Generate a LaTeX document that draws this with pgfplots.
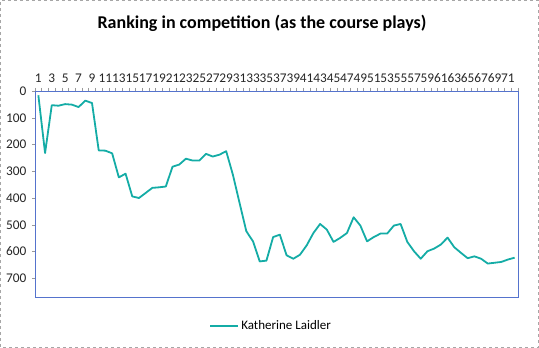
\documentclass[border=0pt]{standalone}
\usepackage{fontspec}
\setmainfont{Carlito}
\usepackage{pgfplots}
\pgfplotsset{compat=1.18}
\definecolor{lineteal}{RGB}{20,172,166}
\definecolor{plotblue}{RGB}{85,115,205}
\begin{document}
\begin{tikzpicture}
\useasboundingbox (0pt,0pt) rectangle (539pt,348pt);
\draw[gray!70, dashed, line width=0.6pt] (0.5pt,0.8pt) rectangle (538.5pt,347.5pt);
\node[font=\fontsize{18}{20}\selectfont\bfseries] at (262pt,325pt) {Ranking in competition (as the course plays)};
\begin{axis}[at={(35pt,51pt)}, anchor=south west, width=483pt, height=206pt, scale only axis,
  xmin=0.5, xmax=72.5, ymin=0, ymax=770, y dir=reverse,
  ytick={0,100,...,700}, xtick={1,3,...,71},
  xticklabel pos=right, xtick pos=right, ytick pos=left,
  tick align=outside,
  major x tick style={draw=none},
  minor xtick={0.5,1.5,...,72.5},
  minor tick length=3pt, major tick length=3pt,
  every tick/.style={gray!80, line width=0.5pt},
  axis line style={draw=plotblue, line width=0.8pt},
  ticklabel style={font=\fontsize{13.3}{15}\selectfont, text=black!85},
  /pgf/number format/assume math mode=true,
  /pgf/number format/1000 sep={},
  yticklabel style={xshift=-2pt},
  xticklabel style={yshift=2pt, inner xsep=0pt},
  legend style={at={(0.489,-0.141)}, anchor=center, draw=none, fill=none,
    font=\fontsize{13}{15}\selectfont, inner sep=0pt},
  legend image code/.code={\draw[#1] (0pt,0pt) -- (28pt,0pt);},
  clip=false,
]
\addplot[lineteal, line width=1.8pt, line join=round] coordinates {
(1,16) (2,232) (3,53) (4,55) (5,49) (6,51) (7,60) (8,36) (9,45) (10,222)
(11,223) (12,233) (13,323) (14,309) (15,394) (16,400) (17,381) (18,362) (19,360) (20,357)
(21,283) (22,275) (23,253) (24,260) (25,260) (26,235) (27,245) (28,238) (29,225) (30,313)
(31,419) (32,524) (33,562) (34,637) (35,634) (36,546) (37,537) (38,614) (39,627) (40,612)
(41,577) (42,531) (43,497) (44,518) (45,564) (46,549) (47,531) (48,472) (49,503) (50,562)
(51,546) (52,533) (53,533) (54,503) (55,497) (56,564) (57,599) (58,627) (59,599) (60,589)
(61,574) (62,548) (63,584) (64,605) (65,625) (66,618) (67,627) (68,645) (69,642) (70,639)
(71,630) (72,623)
};
\addlegendentry{Katherine Laidler}
\end{axis}
\end{tikzpicture}
\end{document}
